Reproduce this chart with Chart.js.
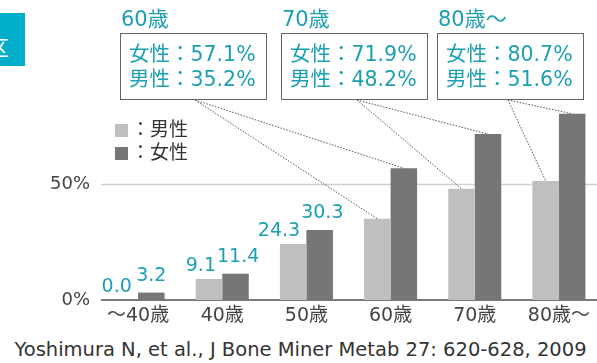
<!DOCTYPE html>
<html>
<head>
<meta charset="utf-8">
<script src="https://cdn.jsdelivr.net/npm/chart.js@4"></script>
<style>
    body { margin: 0; width: 597px; height: 363px; overflow: hidden; position: relative; background: #fff;
           font-family: 'DejaVu Sans', 'Noto Sans CJK JP', sans-serif; }
    #wrap { position: absolute; left: 0; top: 0; width: 605px; height: 335px; }
    .tab { position: absolute; left: 0; top: 13px; width: 25px; height: 53px; background: #00aec9; overflow: hidden; }
    .tab span { position: absolute; left: -13px; top: 23px; color: #fff; font-size: 22px; line-height: 26px; }
    .title { position: absolute; top: 7px; color: #1d9fb2; font-size: 21px; line-height: 24px; white-space: nowrap; }
    .box { position: absolute; top: 33px; width: 147px; height: 67px; box-sizing: border-box;
           border: 1.5px solid #666; padding: 8px 0 0 8px; color: #1d9fb2; font-size: 20.5px; line-height: 25px;
           white-space: nowrap; }
    .legend { position: absolute; left: 115px; color: #333; font-size: 19px; line-height: 23px; }
    .legend i { display: inline-block; width: 13px; height: 13px; margin-right: 3px; vertical-align: -1px; }
    #cite { position: absolute; left: 0; width: 601px; top: 338px; text-align: center; color: #333;
            font-size: 19.5px; line-height: 24px; white-space: nowrap; }
</style>
</head>
<body>
<div id="wrap"><canvas id="chart"></canvas></div>
<div class="tab"><span>区</span></div>
<div id="callouts"></div>
<div class="legend" style="top:118px"><i style="background:#bfbfbf"></i>：男性</div>
<div class="legend" style="top:141px"><i style="background:#767676"></i>：女性</div>
<div id="cite">Yoshimura N, et al., J Bone Miner Metab 27: 620-628, 2009</div>
<script>
// Data
const ageGroups = ['～40歳', '40歳', '50歳', '60歳', '70歳', '80歳～'];
const maleRates = [0.0, 9.1, 24.3, 35.2, 48.2, 51.6];
const femaleRates = [3.2, 11.4, 30.3, 57.1, 71.9, 80.7];
const yTicks = [0, 50];
// groups shown in the boxes at the top, the rest get value labels
const calloutGroups = ['60歳', '70歳', '80歳～'];

const TEAL = '#1d9fb2';
const FONT = "'DejaVu Sans', 'Noto Sans CJK JP', sans-serif";

// Box layout (left edge of each box and the point its lines start from)
const boxLeft = [120, 281, 437];
const boxAnchor = [[195, 100], [357, 100], [508, 100]];

// Build callout boxes
const callouts = document.getElementById('callouts');
calloutGroups.forEach((g, k) => {
    const i = ageGroups.indexOf(g);
    callouts.innerHTML += `
        <div class="title" style="left:${boxLeft[k] + 1}px">${g}</div>
        <div class="box" style="left:${boxLeft[k]}px">女性：${femaleRates[i].toFixed(1)}%<br>男性：${maleRates[i].toFixed(1)}%</div>
    `;
});

// Gridlines drawn from x=101 like the original
const gridPlugin = {
    id: 'gridLines',
    beforeDatasetsDraw(chart) {
        const { ctx, chartArea, scales } = chart;
        ctx.save();
        yTicks.forEach(v => {
            const y = scales.y.getPixelForValue(v);
            ctx.beginPath();
            ctx.strokeStyle = v === 0 ? '#7a7a7a' : '#d0d0d0';
            ctx.lineWidth = v === 0 ? 2 : 1.5;
            ctx.moveTo(101, y);
            ctx.lineTo(chartArea.right, y);
            ctx.stroke();
        });
        ctx.restore();
    }
};

// Value labels and dotted connector lines
const labelPlugin = {
    id: 'valueLabels',
    afterDatasetsDraw(chart) {
        const ctx = chart.ctx;
        const maleBars = chart.getDatasetMeta(0).data;
        const femaleBars = chart.getDatasetMeta(1).data;
        ctx.save();
        ctx.font = `19px ${FONT}`;
        ctx.fillStyle = TEAL;
        ctx.textBaseline = 'alphabetic';
        ageGroups.forEach((g, i) => {
            if (calloutGroups.includes(g)) return;
            const m = maleBars[i], f = femaleBars[i];
            const mText = maleRates[i].toFixed(1);
            const fText = femaleRates[i].toFixed(1);
            const mRight = m.x + 7;
            ctx.textAlign = 'right';
            ctx.fillText(mText, mRight, m.y - 8);
            const fw = ctx.measureText(fText).width;
            const fLeft = Math.max(f.x - fw / 2, mRight + 1);
            ctx.textAlign = 'left';
            ctx.fillText(fText, fLeft, f.y - 12);
        });

        ctx.strokeStyle = '#555';
        ctx.lineWidth = 1;
        ctx.setLineDash([1.5, 1.5]);
        calloutGroups.forEach((g, k) => {
            const i = ageGroups.indexOf(g);
            [maleBars[i], femaleBars[i]].forEach(bar => {
                ctx.beginPath();
                ctx.moveTo(boxAnchor[k][0], boxAnchor[k][1]);
                ctx.lineTo(bar.x, bar.y);
                ctx.stroke();
            });
        });
        ctx.restore();
    }
};

new Chart(document.getElementById('chart'), {
    type: 'bar',
    data: {
        labels: ageGroups,
        datasets: [
            { label: '男性', data: maleRates, backgroundColor: '#bfbfbf' },
            { label: '女性', data: femaleRates, backgroundColor: '#767676' }
        ]
    },
    options: {
        responsive: true,
        maintainAspectRatio: false,
        animation: false,
        layout: { padding: { top: 0, right: 4, bottom: 0, left: 0 } },
        datasets: {
            bar: { categoryPercentage: 0.63, barPercentage: 1.0 }
        },
        plugins: {
            legend: { display: false },
            tooltip: { enabled: false }
        },
        scales: {
            x: {
                grid: { display: false, drawTicks: false },
                border: { display: false },
                afterFit(scale) { scale.height = 35; },
                ticks: {
                    color: '#444',
                    padding: 5,
                    font: { family: FONT, size: 19 },
                    maxRotation: 0,
                    autoSkip: false
                }
            },
            y: {
                min: 0,
                max: 130,
                grid: { display: false, drawTicks: false },
                border: { display: false },
                afterFit(scale) {
                    scale.width = 96;
                    scale.paddingTop = 0;
                    scale.paddingBottom = 0;
                },
                afterBuildTicks(scale) { scale.ticks = yTicks.map(v => ({ value: v })); },
                ticks: {
                    color: '#444',
                    padding: 6,
                    font: { family: FONT, size: 18 },
                    callback: v => v + '%'
                }
            }
        }
    },
    plugins: [gridPlugin, labelPlugin]
});
</script>
</body>
</html>
